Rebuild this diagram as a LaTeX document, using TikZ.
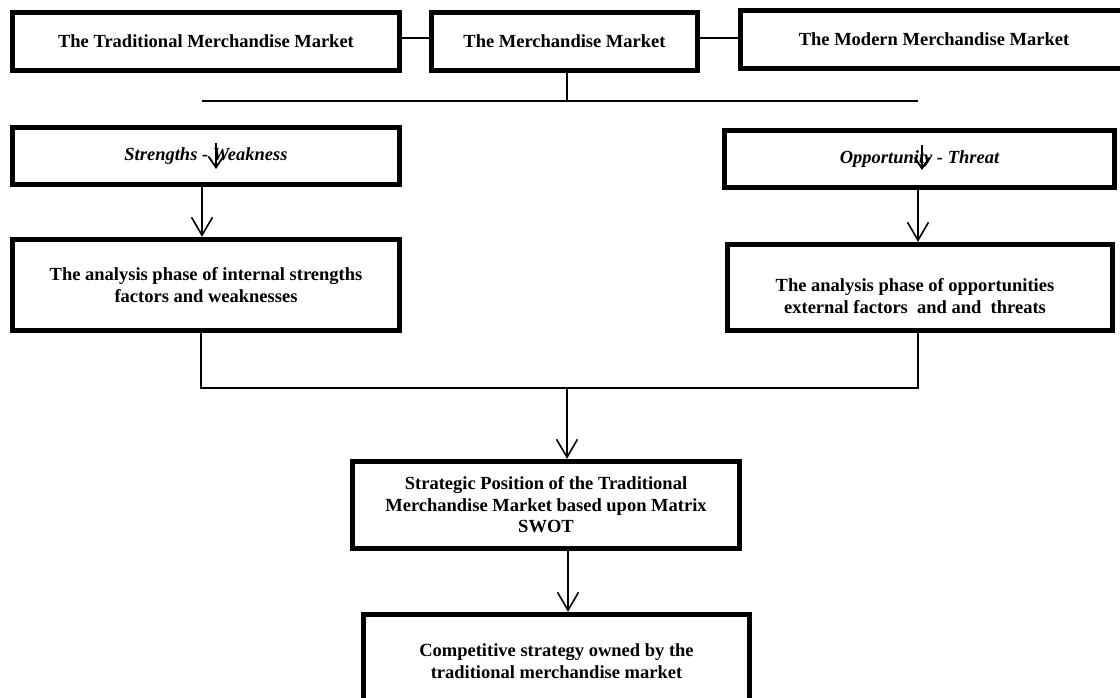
\documentclass[tikz,border=0pt]{standalone}
\usepackage{fontspec}
\setmainfont{Liberation Serif}
\usetikzlibrary{arrows.meta}
\begin{document}
\begin{tikzpicture}[x=1pt,y=-1pt,
  box/.style 2 args={draw, line width=4.8pt, minimum width=#1, minimum height=#2, inner sep=0pt,
    font=\fontsize{18.5}{21.5}\selectfont\bfseries, align=center},
  itbox/.style 2 args={box={#1}{#2}, font=\fontsize{18.5}{21.5}\selectfont\bfseries\itshape},
  txt/.style={font=\fontsize{18.5}{21.5}\selectfont\bfseries, align=center, inner sep=0pt},
  link/.style={line width=1.2pt},
  arr/.style={line width=1.6pt, -{Straight Barb[length=18pt,width=21pt]}},
  minarr/.style={line width=1.8pt, -{Straight Barb[length=11pt,width=15pt]}},
]
\fill[white] (0,0) rectangle (1120,698);
\useasboundingbox (0,0) rectangle (1120,698);
\clip (0,0) rectangle (1120,698);

\node[box={387.5pt}{58.5pt}] (B1) at (206,41.5) {The Traditional Merchandise Market};
\node[box={266.5pt}{58.5pt}] (B2) at (564.5,41.5) {The Merchandise Market};
\node[box={387.5pt}{58.5pt}] (B3) at (934,39.5) {The Modern Merchandise Market};
\node[itbox={387.5pt}{57.5pt}] (SW) at (206,156) {Strengths - Weakness};
\node[itbox={390.5pt}{57.5pt}] (OT) at (919.5,159) {Opportunity - Threat};
\node[box={387.5pt}{91.5pt}] (LA) at (206,285) {The analysis phase of internal strengths\\factors and weaknesses};
\node[box={385.5pt}{86.5pt}] (RA) at (920,287.5) {};
\node[txt] (RAt) at (915,296) {The analysis phase of opportunities\\external factors\ \ and and\ \ threats};
\node[box={387.5pt}{87.5pt}] (ST) at (546,505) {Strategic Position of the Traditional\\Merchandise Market based upon Matrix\\SWOT};
\node[box={386.5pt}{93.5pt}] (CO) at (556.5,661) {Competitive strategy owned by the\\traditional merchandise market};

\coordinate (hl) at (202,101);
\coordinate (hr) at (918,101);
\coordinate (hm) at (567,101);
\coordinate (bl) at (201,388);
\coordinate (br) at (918,388);
\coordinate (bm) at (567,388);
\coordinate (sa) at (216,143);
\coordinate (sae) at (216,169);
\coordinate (oa) at (922,145);
\coordinate (oae) at (922,170);
\coordinate (cx) at (568,0);

\draw[link] ([yshift=3.5pt]B1.east) -- ([yshift=3.5pt]B2.west);
\draw[link] ([yshift=3.5pt]B2.east) -- ([yshift=1.5pt]B3.west);
\draw[link] (hl) -- (hr);
\draw[link] (hm |- B2.south) -- (hm);
\draw[minarr] (sa) -- (sae);
\draw[minarr] (oa) -- (oae);
\draw[arr] (hl |- SW.south) -- (hl |- LA.north);
\draw[arr] (hr |- OT.south) -- (hr |- RA.north);
\draw[link] (bl |- LA.south) -- (bl) -- (br) -- (br |- RA.south);
\draw[arr] (bm) -- (bm |- ST.north);
\draw[arr] (cx |- ST.south) -- (cx |- CO.north);
\end{tikzpicture}
\end{document}
